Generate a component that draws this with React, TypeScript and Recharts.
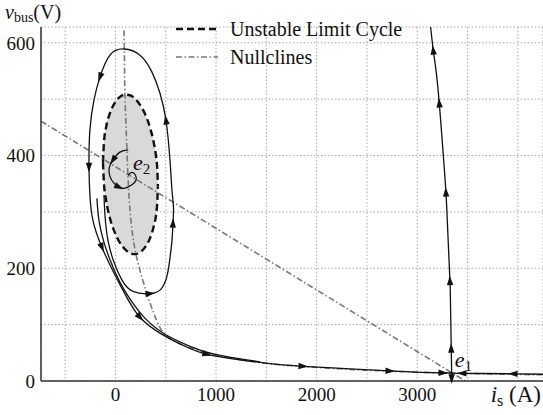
import { Area, CartesianGrid, ComposedChart, Line, ReferenceDot, XAxis, YAxis } from "recharts";

// axis ticks (grid every 500 A / 100 V, labels on some)
const xTicks = [-500, 0, 500, 1000, 1500, 2000, 2500, 3000, 3500, 4000];
const xLabelled = [0, 1000, 2000, 3000];
const yTicks = [0, 100, 200, 300, 400, 500, 600];
const yLabelled = [0, 200, 400, 600];

// unstable limit cycle, as lower / upper v for each i
const limitCycle = [
  { i: -124, lo: 388, hi: 388 },
  { i: -114, lo: 350, hi: 424 },
  { i: -94, lo: 322, hi: 449 },
  { i: -55, lo: 289, hi: 475 },
  { i: -5, lo: 263, hi: 494 },
  { i: 45, lo: 245, hi: 504 },
  { i: 94, lo: 234, hi: 508 },
  { i: 144, lo: 227, hi: 507 },
  { i: 194, lo: 225, hi: 501 },
  { i: 244, lo: 228, hi: 490 },
  { i: 293, lo: 237, hi: 474 },
  { i: 343, lo: 253, hi: 450 },
  { i: 383, lo: 276, hi: 421 },
  { i: 403, lo: 294, hi: 399 },
  { i: 417, lo: 321, hi: 372 },
  { i: 422, lo: 345, hi: 345 },
];

// nullclines
const nullclineLine = [
  { i: -740, v: 461 },
  { i: 3478, v: 0 },
];
const nullclineCurve = [
  { i: 85, v: 622 },
  { i: 90, v: 569 },
  { i: 94, v: 509 },
  { i: 109, v: 436 },
  { i: 124, v: 365 },
  { i: 149, v: 294 },
  { i: 204, v: 225 },
  { i: 313, v: 155 },
  { i: 442, v: 95 },
  { i: 572, v: 72 },
  { i: 840, v: 53 },
  { i: 1337, v: 35 },
  { i: 1834, v: 26 },
  { i: 2331, v: 20.5 },
  { i: 2828, v: 16.8 },
  { i: 3342, v: 14 },
  { i: 3822, v: 12.2 },
  { i: 4250, v: 11 },
];

// trajectories (a = arrow head at that point)
const outerOrbit = [
  { i: -114, v: 330 },
  { i: -104, v: 294 },
  { i: -75, v: 250 },
  { i: -15, v: 211 },
  { i: 65, v: 179 },
  { i: 174, v: 159 },
  { i: 343, v: 155, a: 1 },
  { i: 453, v: 163 },
  { i: 512, v: 186 },
  { i: 542, v: 218 },
  { i: 562, v: 250 },
  { i: 572, v: 280, a: 1 },
  { i: 577, v: 308 },
  { i: 562, v: 338 },
  { i: 542, v: 392 },
  { i: 502, v: 463, a: 1 },
  { i: 442, v: 511 },
  { i: 363, v: 548 },
  { i: 244, v: 578 },
  { i: 84, v: 589 },
  { i: -55, v: 578 },
  { i: -154, v: 539, a: 1 },
  { i: -214, v: 498 },
  { i: -254, v: 445 },
  { i: -263, v: 379, a: 1 },
  { i: -254, v: 330 },
  { i: -224, v: 285 },
  { i: -134, v: 237, a: 1 },
  { i: -5, v: 188 },
  { i: 114, v: 148 },
  { i: 244, v: 113, a: 1 },
  { i: 442, v: 85 },
  { i: 691, v: 61.6 },
  { i: 910, v: 47.4, a: 1 },
  { i: 1238, v: 37.6 },
  { i: 1536, v: 30.9 },
  { i: 1864, v: 26.1, a: 1 },
  { i: 2331, v: 21.5 },
  { i: 2729, v: 17.8, a: 1 },
  { i: 3027, v: 15.4 },
  { i: 3256, v: 14.4, a: 1 },
  { i: 3342, v: 14.2 },
];
const leftOrbit = [
  { i: -184, v: 324 },
  { i: -164, v: 285 },
  { i: -114, v: 246 },
  { i: -45, v: 211 },
  { i: 45, v: 175 },
  { i: 154, v: 143 },
  { i: 293, v: 111.5 },
  { i: 492, v: 83 },
  { i: 741, v: 61.6 },
  { i: 989, v: 47.4 },
  { i: 1436, v: 34 },
];
const innerSpiral = [
  { i: 127, v: 410 },
  { i: 45, v: 406 },
  { i: -25, v: 392, a: 1 },
  { i: -62, v: 378 },
  { i: -55, v: 363 },
  { i: -15, v: 351 },
  { i: 35, v: 344, a: 1 },
  { i: 94, v: 342 },
  { i: 164, v: 348 },
  { i: 204, v: 356 },
  { i: 199, v: 365 },
  { i: 164, v: 370 },
  { i: 124, v: 365 },
];
const unstableUp = [
  { i: 3342, v: 14 },
  { i: 3338, v: 58, a: 1 },
  { i: 3330, v: 143 },
  { i: 3325, v: 178, a: 1 },
  { i: 3305, v: 259 },
  { i: 3285, v: 335, a: 1 },
  { i: 3255, v: 410 },
  { i: 3219, v: 493, a: 1 },
  { i: 3186, v: 552 },
  { i: 3159, v: 587, a: 1 },
  { i: 3133, v: 628 },
];
const unstableDown = [
  { i: 3342, v: 14 },
  { i: 3342, v: 4, a: 1 },
  { i: 3342, v: 0 },
];
const stableRight = [
  { i: 4250, v: 12 },
  { i: 3952, v: 12.8, a: 1 },
  { i: 3623, v: 13.3 },
  { i: 3444, v: 13.7, a: 1 },
  { i: 3342, v: 14 },
];

const equilibria = [
  { name: "e", sub: "1", i: 3342, v: 14, dx: 3, dy: -6 },
  { name: "e", sub: "2", i: 124, v: 365, dx: 5, dy: -5 },
];

const legendItems = [
  { name: "Unstable Limit Cycle", stroke: "#111", dash: "7 4", width: 2.4 },
  { name: "Nullclines", stroke: "#777", dash: "6 2.5 1.5 2.5", width: 1.6 },
];

const FONT = "'Liberation Serif', 'DejaVu Serif', serif";
const KX = 502 / 4990;
const KY = 354 / 628;

type Row = { i: number; v: number; a?: number };

function arrowHeads(rows: Row[]) {
  return (props: any) => {
    const { cx, cy, index, points } = props;
    const row = rows[index];
    if (!row || !row.a || cx == null) return <g key={`n${index}`} />;
    let dx = 0;
    let dy = 0;
    if (points && points.length) {
      const p0 = points[Math.max(index - 1, 0)];
      const p1 = points[Math.min(index + 1, points.length - 1)];
      dx = p1.x - p0.x;
      dy = p1.y - p0.y;
    } else {
      const r0 = rows[Math.max(index - 1, 0)];
      const r1 = rows[Math.min(index + 1, rows.length - 1)];
      dx = (r1.i - r0.i) * KX;
      dy = -(r1.v - r0.v) * KY;
    }
    const ang = (Math.atan2(dy, dx) * 180) / Math.PI;
    return (
      <path
        key={`a${index}`}
        d="M5,0 L-4.5,-3.2 L-4.5,3.2 Z"
        transform={`translate(${cx},${cy}) rotate(${ang})`}
        fill="#111"
        stroke="none"
      />
    );
  };
}

function YTitle(props: any) {
  const vb = props.viewBox;
  return (
    <text x={vb.x + 5} y={vb.y - 8} fontFamily={FONT} fontSize={20} fill="#111">
      <tspan fontStyle="italic">v</tspan>
      <tspan fontSize={14} dy={3}>bus</tspan>
      <tspan dy={-3}>(V)</tspan>
    </text>
  );
}

function XTitle(props: any) {
  const vb = props.viewBox;
  return (
    <text x={vb.x + vb.width - 2} y={vb.y + 21} textAnchor="end" fontFamily={FONT} fontSize={23} fill="#111">
      <tspan fontStyle="italic">i</tspan>
      <tspan fontSize={16} dy={4}>s</tspan>
      <tspan dy={-4}> (A)</tspan>
    </text>
  );
}

export default function App() {
  return (
    <div style={{ position: "absolute", left: 0, top: 0, width: 543, height: 415, background: "#fff" }}>
      <ComposedChart width={543} height={415} margin={{ top: 27, right: 0, bottom: 0, left: 0 }}>
        <CartesianGrid stroke="#a8a8a8" strokeDasharray="1.5 2" />
        <XAxis
          dataKey="i"
          type="number"
          domain={[-740, 4250]}
          ticks={xTicks}
          tickFormatter={(t: number) => (xLabelled.includes(t) ? String(t) : "")}
          height={34}
          tickLine={false}
          tickSize={0}
          tickMargin={7}
          axisLine={{ stroke: "#333", strokeWidth: 1.5 }}
          tick={{ fill: "#111", fontSize: 19, fontFamily: FONT }}
          label={<XTitle />}
        />
        <YAxis
          type="number"
          domain={[0, 628]}
          ticks={yTicks}
          tickFormatter={(t: number) => (yLabelled.includes(t) ? String(t) : "")}
          width={41}
          tickLine={false}
          tickSize={0}
          tickMargin={6}
          axisLine={{ stroke: "#333", strokeWidth: 1.5 }}
          tick={{ fill: "#111", fontSize: 19, fontFamily: FONT }}
          label={<YTitle />}
        />
        <Area
          data={limitCycle}
          dataKey={(d: any) => [d.lo, d.hi]}
          type="monotone"
          fill="#d9d9d9"
          fillOpacity={1}
          stroke="#111"
          strokeWidth={2.4}
          strokeDasharray="7 4"
          dot={false}
          activeDot={false}
          isAnimationActive={false}
        />
        <Line data={nullclineLine} dataKey="v" type="linear" stroke="#777" strokeWidth={1.6} strokeDasharray="6 2.5 1.5 2.5" dot={false} activeDot={false} isAnimationActive={false} />
        <Line data={nullclineCurve} dataKey="v" type="natural" stroke="#777" strokeWidth={1.6} strokeDasharray="6 2.5 1.5 2.5" dot={false} activeDot={false} isAnimationActive={false} />
        <Line data={outerOrbit} dataKey="v" type="natural" stroke="#111" strokeWidth={1.3} dot={arrowHeads(outerOrbit)} activeDot={false} isAnimationActive={false} />
        <Line data={leftOrbit} dataKey="v" type="natural" stroke="#111" strokeWidth={1.3} dot={false} activeDot={false} isAnimationActive={false} />
        <Line data={innerSpiral} dataKey="v" type="natural" stroke="#111" strokeWidth={1.3} dot={arrowHeads(innerSpiral)} activeDot={false} isAnimationActive={false} />
        <Line data={unstableUp} dataKey="v" type="natural" stroke="#111" strokeWidth={1.3} dot={arrowHeads(unstableUp)} activeDot={false} isAnimationActive={false} />
        <Line data={unstableDown} dataKey="v" type="linear" stroke="#111" strokeWidth={1.3} dot={arrowHeads(unstableDown)} activeDot={false} isAnimationActive={false} />
        <Line data={stableRight} dataKey="v" type="linear" stroke="#111" strokeWidth={1.3} dot={arrowHeads(stableRight)} activeDot={false} isAnimationActive={false} />
        {equilibria.map((e) => (
          <ReferenceDot
            key={e.sub}
            x={e.i}
            y={e.v}
            r={0}
            shape={(p: any) => (
              <text x={p.cx + e.dx} y={p.cy + e.dy} fontFamily={FONT} fontSize={22} fill="#111">
                <tspan fontStyle="italic">{e.name}</tspan>
                <tspan fontSize={15} dy={4}>{e.sub}</tspan>
              </text>
            )}
          />
        ))}
      </ComposedChart>
      <div style={{ position: "absolute", left: 174, top: 15, fontFamily: FONT, fontSize: 20, lineHeight: "28px", color: "#111" }}>
        {legendItems.map((it) => (
          <div key={it.name} style={{ display: "flex", alignItems: "center" }}>
            <svg width={46} height={10}>
              <line x1={2} y1={5} x2={44} y2={5} stroke={it.stroke} strokeWidth={it.width} strokeDasharray={it.dash} />
            </svg>
            <span style={{ marginLeft: 10 }}>{it.name}</span>
          </div>
        ))}
      </div>
    </div>
  );
}
